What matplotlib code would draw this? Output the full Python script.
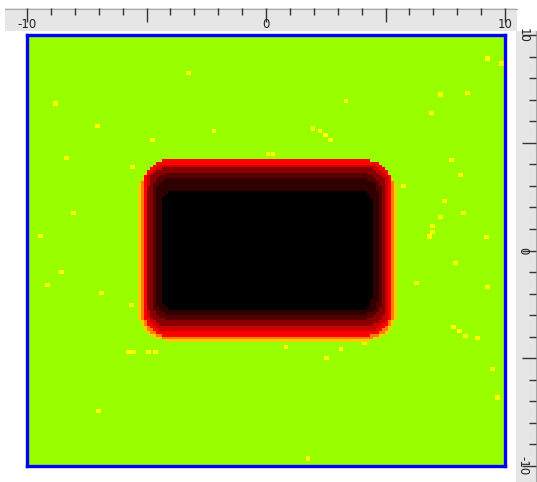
import numpy as np
import matplotlib
matplotlib.use('Agg')
import matplotlib.pyplot as plt
from matplotlib.colors import ListedColormap
from matplotlib.patches import Rectangle
from matplotlib.lines import Line2D

# nested rounded boxes of the field, outer to inner
band_colors = ['#ffcc00', '#ff7f00', '#ff0000', '#cc0000', '#880000', '#550000', '#300000', '#000000']
band_left = [-5.36, -5.23, -5.15, -5.02, -4.94, -4.77, -4.64, -4.35]
band_right = [5.48, 5.36, 5.27, 5.15, 5.02, 4.85, 4.69, 4.44]
band_bottom = [-4.20, -4.11, -3.97, -3.78, -3.55, -3.23, -2.99, -2.76]
band_top = [4.05, 4.12, 4.22, 4.06, 3.88, 3.60, 3.36, 2.81]
band_radius = [1.3, 1.2, 1.1, 1.0, 0.9, 0.8, 0.7, 0.5]
cell = 0.125  # grid step of the field

# scattered yellow cells
dot_x = [-3.26, 9.29, -7.07, -8.83, -2.18, -4.77, -8.37, 1.97, 2.26, 2.51, 2.72,
         0.08, 0.29, 3.35, 7.32, 8.45, 6.95, 5.77, 8.16, 7.78, 7.49, 6.99, 6.99,
         6.85, 7.32, 8.28, 9.25, -8.08, -9.46, 7.95, -8.58, -9.16, 9.29, -6.90,
         -5.65, 7.87, 8.12, 8.37, 8.87, -5.77, -5.56, -4.94, -4.64, 0.84, 3.14,
         2.55, 4.14, 6.32, 9.5, -7.03, 1.76, -5.61, 9.87, 9.71]
dot_y = [8.24, 8.93, 5.78, 6.84, 5.55, 5.13, 4.29, 5.68, 5.55, 5.36, 5.13,
         4.48, 4.48, 6.94, 7.26, 7.31, 6.38, 2.99, 3.50, 4.20, 2.30, 1.14, 0.86,
         0.65, 1.55, 1.74, 0.63, 1.74, 0.67, -0.58, -1.0, -1.6, -1.69, -1.97,
         -2.53, -3.55, -3.74, -3.97, -4.06, -4.71, -4.71, -4.71, -4.71, -4.48, -4.57,
         -4.99, -4.29, -1.51, -5.5, -7.45, -9.68, 3.87, 8.70, -6.84]
dot_size = 0.2

green = '#99ff00'
dot_color = '#ffff00'

nx, ny = 478, 431
xs = np.linspace(-10, 10, nx)
ys = np.linspace(10, -10, ny)
X, Y = np.meshgrid(xs, ys)
Xc = (np.floor(X / cell) + 0.5) * cell
Yc = (np.floor(Y / cell) + 0.5) * cell

field = np.zeros((ny, nx), dtype=int)
for i in range(len(band_colors)):
    cx = (band_left[i] + band_right[i]) / 2
    cy = (band_bottom[i] + band_top[i]) / 2
    hw = (band_right[i] - band_left[i]) / 2
    hh = (band_top[i] - band_bottom[i]) / 2
    r = band_radius[i]
    ax_ = np.abs(Xc - cx)
    ay_ = np.abs(Yc - cy)
    inside = (ax_ <= hw) & (ay_ <= hh)
    qx = ax_ - (hw - r)
    qy = ay_ - (hh - r)
    corner = (qx > 0) & (qy > 0) & (qx**2 + qy**2 > r**2)
    field[inside & ~corner] = i + 1

dot_level = len(band_colors) + 1
for x0, y0 in zip(dot_x, dot_y):
    m = (np.abs(X - x0) <= dot_size / 2) & (np.abs(Y - y0) <= dot_size / 2) & (field == 0)
    field[m] = dot_level

cmap = ListedColormap([green] + band_colors + [dot_color])

fig = plt.figure(figsize=(5.37, 4.82), dpi=100)
W, H = 537.0, 482.0

# gray axis bands
fig.add_artist(Rectangle((5 / W, 1 - 31 / H), 512 / W, 22.5 / H, transform=fig.transFigure,
                         facecolor='#e6e6e6', edgecolor='none', zorder=-1))
fig.add_artist(Rectangle((516 / W, 0), 21 / W, 1 - 31 / H, transform=fig.transFigure,
                         facecolor='#e6e6e6', edgecolor='none', zorder=-1))
fig.add_artist(Line2D([5 / W, 517 / W], [1 - 8.5 / H, 1 - 8.5 / H], transform=fig.transFigure,
                      color='#a8a8a8', lw=0.8, zorder=-1))
fig.add_artist(Line2D([536 / W, 536 / W], [0, 1 - 31 / H], transform=fig.transFigure,
                      color='#a8a8a8', lw=0.8, zorder=-1))

ax = fig.add_axes([27 / W, 1 - 466 / H, 478 / W, 431 / H])
ax.imshow(field, cmap=cmap, vmin=0, vmax=dot_level, extent=(-10, 10, -10, 10),
          aspect='auto', interpolation='nearest')
ax.set_xlim(-10, 10)
ax.set_ylim(-10, 10)
ax.set_xticks([])
ax.set_yticks([])
for s in ax.spines.values():
    s.set_color('#0000ff')
    s.set_linewidth(2.4)

tick_labels = [-10, 0, 10]
major_ticks = [-10, -5, 0, 5, 10]
minor_ticks = list(range(-10, 11))

# top axis
ax_top = fig.add_axes([27 / W, 1 - 31 / H, 478 / W, 22.5 / H])
ax_top.patch.set_visible(False)
for s in ax_top.spines.values():
    s.set_visible(False)
ax_top.set_xlim(-10, 10)
ax_top.set_ylim(0, 1)
ax_top.xaxis.tick_top()
ax_top.set_xticks(major_ticks)
ax_top.set_xticks(minor_ticks, minor=True)
ax_top.tick_params(axis='x', which='major', direction='in', length=10, width=1, color='#333333',
                   labeltop=False)
ax_top.tick_params(axis='x', which='minor', direction='in', length=5, width=1, color='#333333')
ax_top.set_yticks([])
for v in tick_labels:
    ax_top.text(v, 0.3, str(v), ha='center', va='center', fontsize=8.5, color='#222222')

# right axis
ax_r = fig.add_axes([519 / W, 1 - 466 / H, 17 / W, 431 / H])
ax_r.patch.set_visible(False)
for s in ax_r.spines.values():
    s.set_visible(False)
ax_r.set_ylim(-10, 10)
ax_r.set_xlim(0, 1)
ax_r.yaxis.tick_right()
ax_r.set_yticks(major_ticks)
ax_r.set_yticks(minor_ticks, minor=True)
ax_r.tick_params(axis='y', which='major', direction='in', length=10, width=1, color='#333333',
                 labelright=False)
ax_r.tick_params(axis='y', which='minor', direction='in', length=5, width=1, color='#333333')
ax_r.set_xticks([])
for v in tick_labels:
    ax_r.text(0.25, v, str(v), ha='center', va='center', fontsize=8.5, color='#222222',
              rotation=-90)

plt.savefig('out.png', dpi=100)
